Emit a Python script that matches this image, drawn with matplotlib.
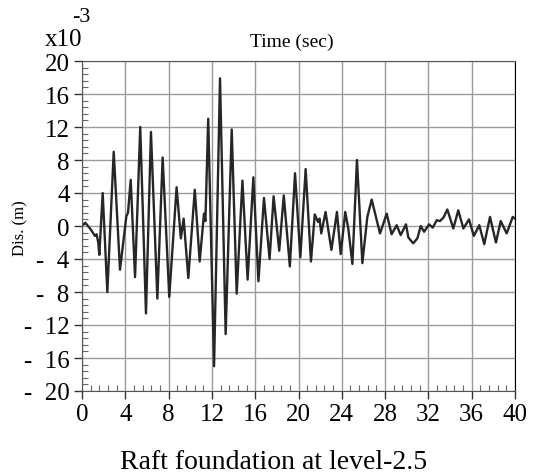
import numpy as np
import matplotlib
matplotlib.use("Agg")
import matplotlib.pyplot as plt
from matplotlib.ticker import FixedLocator, FixedFormatter, MultipleLocator

plt.rcParams['font.family'] = ['Liberation Serif', 'DejaVu Serif']

# peaks / troughs (time in sec, displacement in 1e-3 m)
time = [0, 0.3, 0.8, 1.2, 1.35, 1.5, 1.6, 1.91, 2.34, 2.93, 3.51, 4.1, 4.25,
        4.5, 4.9, 5.38, 5.91, 6.37, 6.96, 7.45, 8.06, 8.74, 9.13, 9.39, 9.82,
        10.42, 10.87, 11.27, 11.4, 11.66, 12.2, 12.75, 13.27, 13.83, 14.29,
        14.82, 15.3, 15.83, 16.3, 16.81, 17.33, 17.7, 18.22, 18.64, 19.2,
        19.68, 20.17, 20.66, 21.15, 21.5, 21.8, 21.95, 22.1, 22.5, 23.04,
        23.55, 23.9, 24.32, 24.6, 24.98, 25.4, 25.9, 26.36, 26.76, 27.53,
        28.15, 28.6, 29.07, 29.44, 29.93, 30.15, 30.6, 30.98, 31.29, 31.6,
        32.06, 32.4, 32.77, 33.07, 33.38, 33.75, 34.3, 34.76, 35.23, 35.75,
        36.2, 36.7, 37.16, 37.69, 38.24, 38.68, 39.23, 39.79, 40]
disp = [0, 0.4, -0.4, -1.2, -1.0, -2.0, -3.5, 4.0, -8.0, 9.0, -5.3, 1.2, 1.6,
        5.6, -6.2, 12.0, -10.6, 11.4, -8.8, 8.3, -8.6, 4.7, -1.5, 0.9, -6.3,
        4.4, -4.3, 1.5, 0.6, 13.0, -17.0, 17.9, -13.1, 11.7, -8.2,
        5.5, -6.5, 5.9, -6.7, 3.4, -4.0, 3.6, -3.0, 3.7, -4.9,
        6.4, -3.8, 6.9, -4.3, 1.4, 0.5, 0.9, -0.9, 1.7, -2.9,
        1.7, -3.4, 1.7, -0.3, -4.6, 8.0, -4.5, 1.1, 3.2, -0.9,
        1.5, -1.0, 0.1, -1.1, 0.2, -1.4, -2.1, -1.5, 0.0, -0.7,
        0.2, -0.2, 0.7, 0.6, 1.0, 2.0, -0.3, 1.9, -0.3, 0.8,
        -1.2, 0.1, -2.2, 1.1, -2.0, 0.6, -0.9, 1.1, 0.9]

x_ticks = [0, 4, 8, 12, 16, 20, 24, 28, 32, 36, 40]
y_ticks = [-20, -16, -12, -8, -4, 0, 4, 8, 12, 16, 20]
y_labels = ['-  20', '-  16', '-  12', '-  8', '-  4', '0', '4', '8', '12', '16', '20']

fig = plt.figure(figsize=(5.35, 4.77), dpi=100)
ax = fig.add_axes([82/535, 1 - 392/477, 433/535, 330/477])

ax.plot(time, disp, color='#262626', lw=1.7)

ax.set_xlim(0, 40)
ax.set_ylim(-20, 20)
ax.xaxis.set_major_locator(FixedLocator(x_ticks))
ax.yaxis.set_major_locator(FixedLocator(y_ticks))
ax.yaxis.set_major_formatter(FixedFormatter(y_labels))
ax.xaxis.set_minor_locator(MultipleLocator(0.8))
ax.yaxis.set_minor_locator(MultipleLocator(0.8))

ax.grid(True, which='major', color='#9a9a9a', lw=1)
ax.set_axisbelow(True)
ax.tick_params(which='major', direction='out', length=6, width=1,
               color='#333333', labelsize=18, pad=3)
ax.tick_params(which='minor', direction='in', length=4, width=0.8,
               color='#666666')

for side in ['left', 'bottom', 'top']:
    ax.spines[side].set_color('#555555')
ax.spines['right'].set_color('black')

ax.set_xlabel('Raft foundation at level-2.5', fontsize=20)
ax.xaxis.set_label_coords(0.443, -0.215)
ax.xaxis.label.set_va('center')

ax.set_ylabel('Dis. (m)', fontsize=12)
ax.yaxis.set_label_coords(-0.143, 0.497)
ax.yaxis.label.set_va('center')

ax.text(0.484, 1.06, 'Time (sec)', transform=ax.transAxes, fontsize=14,
        ha='center', va='center')

fig.text(82/535, 1 - 46/477, 'x10', fontsize=18, ha='right', va='baseline')
fig.text(72/535, 1 - 22/477, '-3', fontsize=16, ha='left', va='baseline')

fig.savefig('out.png', dpi=100)
